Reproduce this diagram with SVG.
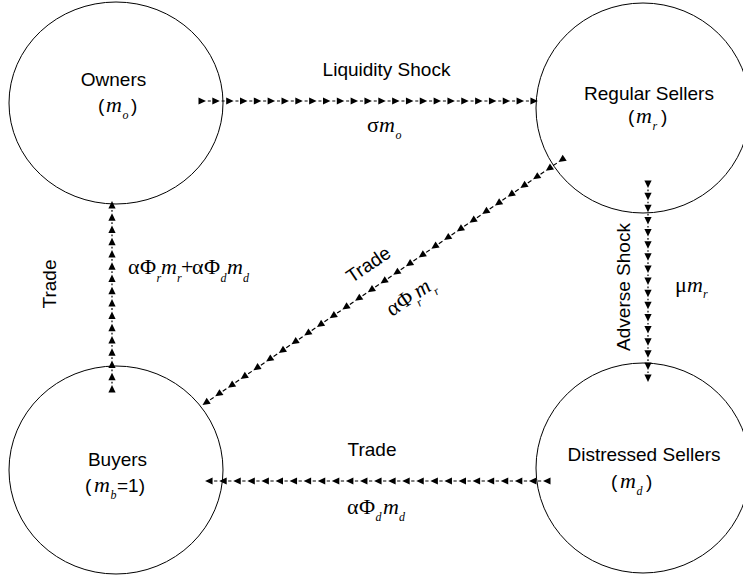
<svg xmlns="http://www.w3.org/2000/svg" width="743" height="575" viewBox="0 0 743 575">
<style>
.node ellipse{fill:none;stroke:#000;stroke-width:1}
.lbl{font-family:"Liberation Sans",Arial,sans-serif;font-size:19px;fill:#000}
.math{font-family:"Liberation Serif","Times New Roman",serif;font-size:22px;fill:#000}
.mi{font-family:"Liberation Serif","Times New Roman",serif;font-style:italic;font-size:22px}
.sub{font-family:"Liberation Serif","Times New Roman",serif;font-style:italic;font-size:12px}
.conn path{fill:none;stroke:#000;stroke-width:1.2;marker-start:url(#tri);marker-mid:url(#tri);marker-end:url(#tri)}
</style>
<defs>
<marker id="tri" markerUnits="userSpaceOnUse" markerWidth="12" markerHeight="12" viewBox="-10 -6 12 12" refX="0" refY="0" orient="auto" overflow="visible">
<path d="M0,0 L-7.5,-3.6 L-7.5,3.6 Z" fill="#000"/>
</marker>
</defs>
<rect width="743" height="575" fill="#fff"/>

<g id="owners" class="node">
<ellipse cx="116" cy="103" rx="107" ry="101"/>
<text class="lbl" x="113.5" y="86" text-anchor="middle">Owners</text>
<text class="lbl" y="112"><tspan x="98">(</tspan><tspan class="mi" x="106">m</tspan><tspan class="sub" x="122.5" y="119">o</tspan><tspan x="131" y="112">)</tspan></text>
</g>

<g id="regular-sellers" class="node">
<ellipse cx="643" cy="108" rx="107" ry="105"/>
<text class="lbl" x="649" y="100" text-anchor="middle">Regular Sellers</text>
<text class="lbl" y="123"><tspan x="628">(</tspan><tspan class="mi" x="636">m</tspan><tspan class="sub" x="652.5" y="130">r</tspan><tspan x="661" y="123">)</tspan></text>
</g>

<g id="buyers" class="node">
<ellipse cx="116" cy="470" rx="107" ry="104"/>
<text class="lbl" x="117.5" y="466" text-anchor="middle">Buyers</text>
<text class="lbl" y="492"><tspan x="85">(</tspan><tspan class="mi" x="94">m</tspan><tspan class="sub" x="110.5" y="499">b</tspan><tspan x="117" y="492">=1)</tspan></text>
</g>

<g id="distressed-sellers" class="node">
<ellipse cx="643" cy="468" rx="107" ry="105"/>
<text class="lbl" x="644" y="461" text-anchor="middle">Distressed Sellers</text>
<text class="lbl" y="488"><tspan x="611">(</tspan><tspan class="mi" x="620">m</tspan><tspan class="sub" x="636.5" y="495">d</tspan><tspan x="646" y="488">)</tspan></text>
</g>

<g id="connectors" class="conn">
<path d="M206,101 h13.83 h13.83 h13.83 h13.83 h13.83 h13.83 h13.83 h13.83 h13.83 h13.83 h13.83 h13.83 h13.83 h13.83 h13.83 h13.83 h13.83 h13.83 h13.83 h13.83 h13.83 h13.83 h13.83 h13.83" stroke-dasharray="0 1.8 3.03 9"/>
<path d="M112,385 v-12.27 v-12.27 v-12.27 v-12.27 v-12.27 v-12.27 v-12.27 v-12.27 v-12.27 v-12.27 v-12.27 v-12.27 v-12.27 v-12.27 v-12.27" stroke-dasharray="0 1.5 1.77 9"/>
<path d="M648,188 v12.13 v12.13 v12.13 v12.13 v12.13 v12.13 v12.13 v12.13 v12.13 v12.13 v12.13 v12.13 v12.13 v12.13 v12.13 v12.13" stroke-dasharray="0 1.5 1.63 9"/>
<path d="M543,481 h-14.08 h-14.08 h-14.08 h-14.08 h-14.08 h-14.08 h-14.08 h-14.08 h-14.08 h-14.08 h-14.08 h-14.08 h-14.08 h-14.08 h-14.08 h-14.08 h-14.08 h-14.08 h-14.08 h-14.08 h-14.08 h-14.08 h-14.08 h-14.08" stroke-dasharray="0 1.8 3.28 9"/>
<path d="M558.5,162 l-12.714,8.679 l-12.714,8.679 l-12.714,8.679 l-12.714,8.679 l-12.714,8.679 l-12.714,8.679 l-12.714,8.679 l-12.714,8.679 l-12.714,8.679 l-12.714,8.679 l-12.714,8.679 l-12.714,8.679 l-12.714,8.679 l-12.714,8.679 l-12.714,8.679 l-12.714,8.679 l-12.714,8.679 l-12.714,8.679 l-12.714,8.679 l-12.714,8.679 l-12.714,8.679 l-12.714,8.679 l-12.714,8.679 l-12.714,8.679 l-12.714,8.679 l-12.714,8.679 l-12.714,8.679 l-12.714,8.679" stroke-dasharray="0 2 4.39 9"/>
</g>

<g id="edge-labels">
<text class="lbl" x="386.5" y="76" text-anchor="middle">Liquidity Shock</text>
<text class="math" y="132"><tspan x="367">σ</tspan><tspan class="mi" x="379">m</tspan><tspan class="sub" x="395.5" y="139">o</tspan></text>

<text class="lbl" transform="translate(56,284) rotate(-90)" text-anchor="middle">Trade</text>
<text class="math" y="274"><tspan x="128">α</tspan><tspan x="140">Φ</tspan><tspan class="sub" x="156.5" y="282">r</tspan><tspan class="mi" x="161" y="274">m</tspan><tspan class="sub" x="177" y="282">r</tspan><tspan x="181" y="274">+</tspan><tspan x="192">α</tspan><tspan x="204">Φ</tspan><tspan class="sub" x="220.5" y="282">d</tspan><tspan class="mi" x="227" y="274">m</tspan><tspan class="sub" x="243" y="282">d</tspan></text>

<g transform="translate(368,264) rotate(-34)"><text class="lbl" x="0" y="7" text-anchor="middle">Trade</text></g>
<g transform="translate(411,297) rotate(-34)"><text class="math" y="6"><tspan x="-27">α</tspan><tspan x="-15">Φ</tspan><tspan class="sub" x="1.5" y="13">r</tspan><tspan class="mi" x="6" y="6">m</tspan><tspan class="sub" x="22" y="13">r</tspan></text></g>

<text class="lbl" transform="translate(630,287) rotate(-90)" text-anchor="middle">Adverse Shock</text>
<text class="math" y="292"><tspan x="675">μ</tspan><tspan class="mi" x="687">m</tspan><tspan class="sub" x="703" y="298">r</tspan></text>

<text class="lbl" x="372" y="456" text-anchor="middle">Trade</text>
<text class="math" y="514"><tspan x="347">α</tspan><tspan x="359">Φ</tspan><tspan class="sub" x="375.5" y="521">d</tspan><tspan class="mi" x="383" y="514">m</tspan><tspan class="sub" x="399" y="521">d</tspan></text>
</g>
</svg>
